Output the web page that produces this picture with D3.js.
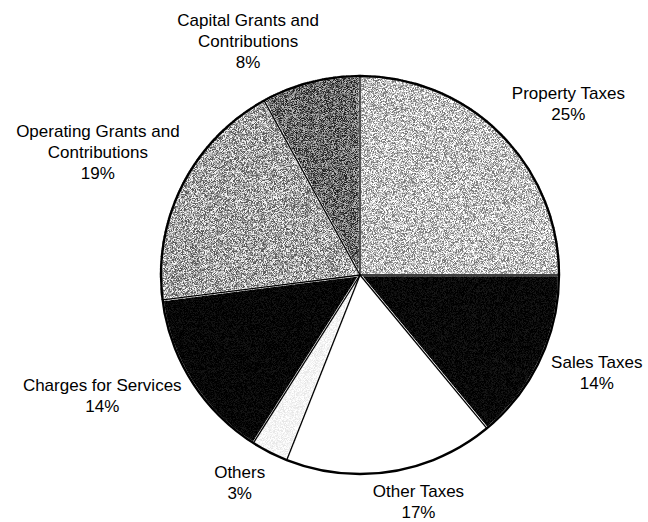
<!DOCTYPE html>
<html><head><meta charset="utf-8">
<script src="https://cdn.jsdelivr.net/npm/d3@7"></script>
<style>html,body{margin:0;padding:0;background:#fff;}svg{display:block;}</style>
</head><body>
<svg id="chart" width="648" height="522"></svg>
<script>
// ---- data ----
const categories = ["Property Taxes","Sales Taxes","Other Taxes","Others","Charges for Services","Operating Grants and Contributions","Capital Grants and Contributions"];
const labelLines = [["Property Taxes"],["Sales Taxes"],["Other Taxes"],["Others"],["Charges for Services"],["Operating Grants and","Contributions"],["Capital Grants and","Contributions"]];
const values = [25,14,17,3,14,19,8];

// ---- style / layout ----
const fills = ["#c4c4c4","#080808","#ffffff","#f4f4f4","#060606","#a6a6a6","#6a6a6a"];
const grain = [0.6,0.12,0,0.1,0.12,0.62,0.6];
const nudge = [[21,16],[-3,-15],[17,-35],[0,-29],[-34,-21],[-26,-3],[-46,23]];
const cx = 360, cy = 275, R = 199, RL = 265, lineH = 21;

const svg = d3.select("#chart");
const defs = svg.append("defs");
grain.forEach((g,i)=>{
  const f = defs.append("filter").attr("id","g"+i).attr("color-interpolation-filters","sRGB")
    .attr("x","-5%").attr("y","-5%").attr("width","110%").attr("height","110%");
  f.append("feTurbulence").attr("type","fractalNoise").attr("baseFrequency","1.9").attr("numOctaves",1).attr("seed",i+3).attr("result","n");
  f.append("feColorMatrix").attr("in","n").attr("type","matrix")
   .attr("values","4 0 0 0 -1.5  4 0 0 0 -1.5  4 0 0 0 -1.5  0 0 0 0 1").attr("result","gn");
  f.append("feComposite").attr("in","SourceGraphic").attr("in2","gn").attr("operator","arithmetic")
   .attr("k1",0).attr("k2",1).attr("k3",g).attr("k4",-g/2).attr("result","mix");
  f.append("feComposite").attr("in","mix").attr("in2","SourceAlpha").attr("operator","in");
});

const pie = d3.pie().sort(null).value(d=>d)(values);
const arc = d3.arc().innerRadius(0).outerRadius(R);
const g = svg.append("g").attr("transform",`translate(${cx},${cy})`);

g.selectAll("path.slice").data(pie).join("path")
  .attr("class","slice")
  .attr("d",arc)
  .attr("fill",(d,i)=>fills[i])
  .attr("filter",(d,i)=>grain[i]>0?`url(#g${i})`:null)
  .attr("stroke","#fff").attr("stroke-width",2.4).attr("stroke-linejoin","round");

// radial boundary lines
g.selectAll("line.rad").data(pie).join("line")
  .attr("class","rad")
  .attr("x1",0).attr("y1",0)
  .attr("x2",d=>R*Math.sin(d.startAngle)).attr("y2",d=>-R*Math.cos(d.startAngle))
  .attr("stroke","#000").attr("stroke-width",1.3);

// outer rim
g.append("circle").attr("r",R).attr("fill","none").attr("stroke","#000").attr("stroke-width",2.4);

// labels
const lab = svg.append("g").attr("font-family","'Liberation Sans', Arial, sans-serif")
  .attr("font-size",17).attr("fill","#000").attr("text-anchor","middle");
pie.forEach((d,i)=>{
  const a = (d.startAngle+d.endAngle)/2;
  const x = cx + RL*Math.sin(a) + nudge[i][0];
  const y = cy - RL*Math.cos(a) + nudge[i][1];
  const lines = labelLines[i].concat([values[i]+"%"]);
  const top = y - (lines.length-1)*lineH/2 + 6;
  const t = lab.append("text").attr("x",x).attr("y",top);
  lines.forEach((s,k)=>{
    t.append("tspan").attr("x",x).attr("y",top+k*lineH).text(s);
  });
});
</script>
</body></html>
